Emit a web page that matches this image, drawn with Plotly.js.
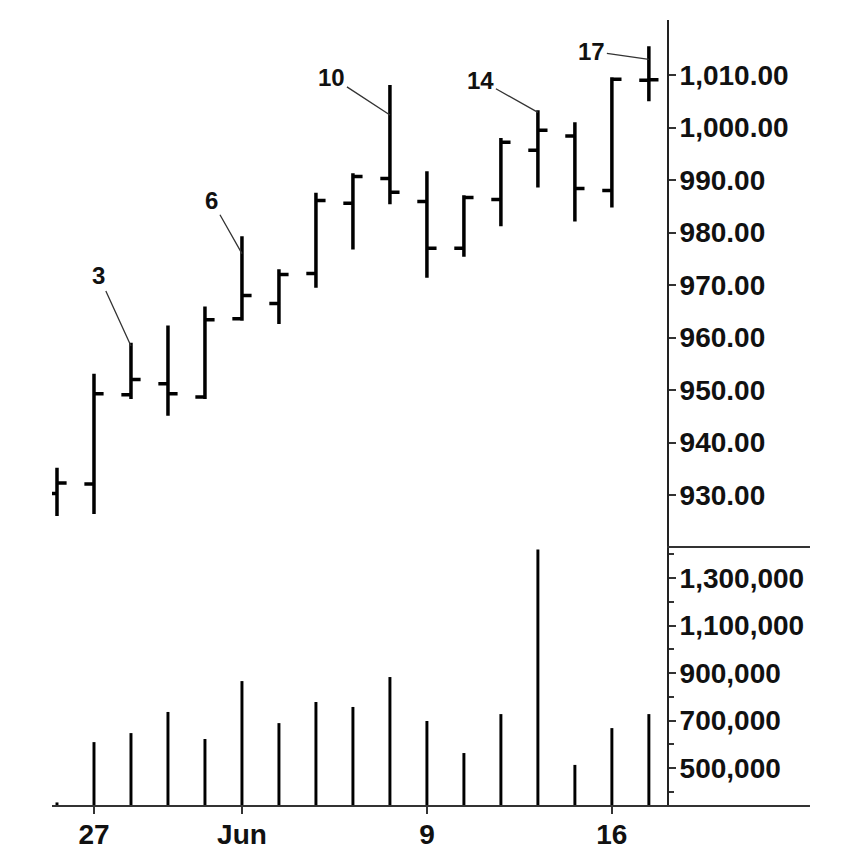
<!DOCTYPE html>
<html>
<head>
<meta charset="utf-8">
<script src="https://cdn.plot.ly/plotly-3.0.1.min.js"></script>
<style>
  body { margin: 0; background: #fff; }
  #plot { width: 850px; height: 860px; }
</style>
</head>
<body>
<div id="plot"></div>
<script>
// trading days, May 23 to Jun 17 (May 26 holiday skipped)
var dates = ["May 23", "May 27", "May 28", "May 29", "May 30", "Jun 2", "Jun 3", "Jun 4",
             "Jun 5", "Jun 6", "Jun 9", "Jun 10", "Jun 11", "Jun 12", "Jun 13", "Jun 16", "Jun 17"];

var opens  = [930.3, 932.1, 949.1, 951.2, 948.7, 963.6, 966.5, 972.2, 985.6, 990.3,
              985.9, 977.0, 986.3, 995.7, 998.4, 988.0, 1009.0];
var highs  = [935.2, 953.1, 959.0, 962.3, 965.9, 979.3, 973.0, 987.6, 991.3, 1008.1,
              991.7, 987.1, 998.0, 1003.3, 1001.0, 1009.6, 1015.5];
var lows   = [926.0, 926.4, 948.3, 945.1, 948.3, 963.2, 962.6, 969.5, 976.8, 985.4,
              971.4, 975.4, 981.2, 988.6, 982.1, 984.8, 1005.0];
var closes = [932.3, 949.3, 952.0, 949.3, 963.4, 968.0, 972.0, 986.1, 990.7, 987.7,
              977.0, 986.7, 997.2, 999.5, 988.4, 1009.2, 1009.1];

var volumes = [355000, 609000, 647000, 736000, 622000, 866000, 689000, 778000, 757000, 883000,
               698000, 563000, 727000, 1420000, 513000, 668000, 727000];

// bar numbers called out on the chart
var calloutBars = [2, 5, 9, 13, 16];
var calloutText = ["3", "6", "10", "14", "17"];

var tickIdx = [1, 5, 10, 15];
var tickText = ["27", "Jun", "9", "16"];
var priceTicks = [930, 940, 950, 960, 970, 980, 990, 1000, 1010];

var idx = dates.map((d, i) => i);

var price = {
  type: "ohlc",
  x: idx,
  open: opens,
  high: highs,
  low: lows,
  close: closes,
  xaxis: "x",
  yaxis: "y",
  tickwidth: 0.26,
  increasing: { line: { color: "#000", width: 3.5 } },
  decreasing: { line: { color: "#000", width: 3.5 } },
  hoverinfo: "skip"
};

var volume = {
  type: "bar",
  x: idx,
  y: volumes,
  xaxis: "x",
  yaxis: "y2",
  width: 0.08,
  marker: { color: "#000", line: { width: 0 } },
  hoverinfo: "skip"
};

// arrow offsets for the callouts (pixels)
var offs = [[-32, -70], [-30, -53], [-58, -38], [-57, -32], [-57, -8]];
var tipDrop = [0.6, 3.3, 5.7, 0.4, 2.5];

var notes = calloutBars.map((b, k) => ({
  x: b,
  y: highs[b] - tipDrop[k],
  xref: "x",
  yref: "y",
  text: calloutText[k],
  showarrow: true,
  arrowhead: 0,
  arrowwidth: 1.3,
  arrowcolor: "#333",
  ax: offs[k][0],
  ay: offs[k][1],
  font: { family: "Liberation Sans, Arial, sans-serif", size: 24, weight: "bold", color: "#111" }
}));

var tickFont = { family: "Liberation Sans, Arial, sans-serif", size: 28, weight: "bold", color: "#111" };

var layout = {
  width: 850,
  height: 860,
  margin: { l: 52, r: 183, t: 20, b: 54 },
  paper_bgcolor: "#fff",
  plot_bgcolor: "#fff",
  showlegend: false,
  xaxis: {
    anchor: "y2",
    range: [-0.135, 16.49],
    tickmode: "array",
    tickvals: tickIdx,
    ticktext: tickText,
    ticks: "outside",
    ticklen: 7,
    tickwidth: 2,
    tickcolor: "#333",
    tickfont: tickFont,
    ticklabelstandoff: -4,
    showgrid: false,
    zeroline: false,
    showline: false,
    rangeslider: { visible: false },
    fixedrange: true
  },
  yaxis: {
    domain: [0.3295, 1],
    side: "right",
    anchor: "x",
    range: [920.1, 1020.5],
    tickmode: "array",
    tickvals: priceTicks,
    tickformat: ",.2f",
    ticks: "outside",
    ticklen: 7,
    tickwidth: 2,
    tickcolor: "#333",
    tickfont: tickFont,
    ticklabelstandoff: -2,
    showline: true,
    linecolor: "#222",
    linewidth: 2,
    showgrid: false,
    zeroline: false
  },
  yaxis2: {
    domain: [0, 0.3295],
    side: "right",
    anchor: "x",
    range: [340000, 1430500],
    tick0: 500000,
    dtick: 200000,
    tickformat: ",d",
    ticks: "outside",
    ticklen: 7,
    tickwidth: 2,
    tickcolor: "#333",
    tickfont: tickFont,
    ticklabelstandoff: -2,
    minor: { dtick: 100000, ticklen: 5, tickwidth: 2, tickcolor: "#333", ticks: "outside" },
    showline: true,
    linecolor: "#222",
    linewidth: 2,
    showgrid: false,
    zeroline: false
  },
  shapes: [
    { type: "line", xref: "paper", yref: "paper", x0: 0, x1: 1.2325, y0: 0, y1: 0,
      line: { color: "#333", width: 2 } },
    { type: "line", xref: "paper", yref: "paper", x0: 1, x1: 1.2325, y0: 0.3295, y1: 0.3295,
      line: { color: "#333", width: 2 } }
  ],
  annotations: notes
};

Plotly.newPlot("plot", [price, volume], layout, { staticPlot: true });
</script>
</body>
</html>
